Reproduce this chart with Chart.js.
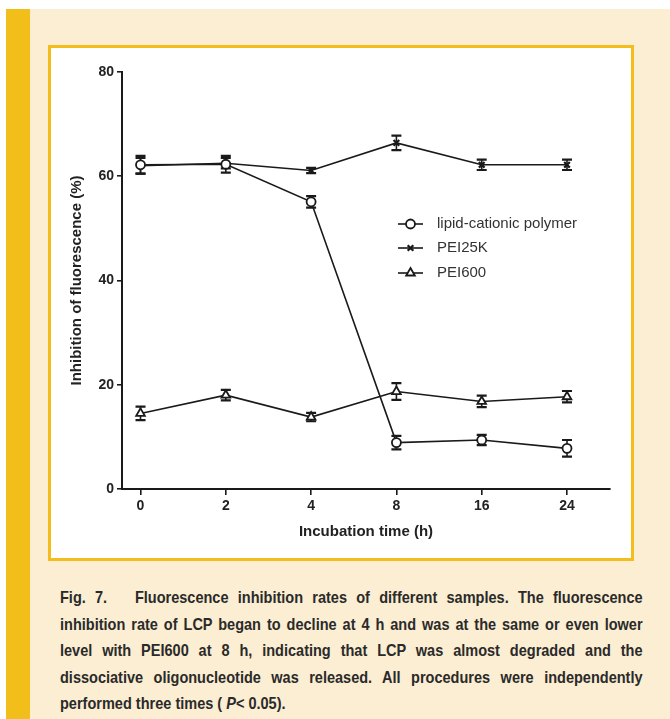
<!DOCTYPE html>
<html><head><meta charset="utf-8">
<script src="https://cdn.jsdelivr.net/npm/chart.js@4.4.0/dist/chart.umd.min.js"></script>
<style>
html,body{margin:0;padding:0;background:#fff;}
body{width:670px;height:719px;position:relative;overflow:hidden;}
#panel{position:absolute;left:6px;top:9px;width:664px;height:710px;background:#FBEED2;}
#bar{position:absolute;left:6px;top:9px;width:24px;height:710px;background:#F2BE1A;}
#box{position:absolute;left:48px;top:45px;width:580px;height:510px;border:3px solid #F3BE1C;background:#fff;}
#box canvas{position:absolute;left:0;top:0;}
#cap{position:absolute;left:60px;top:584px;width:662px;transform:scaleX(0.88);transform-origin:0 0;font-family:"Liberation Sans",Arial,sans-serif;font-size:16.5px;line-height:26.5px;color:#2a2a2a;font-weight:bold;}
#cap .l{text-align:justify;text-align-last:justify;}
#cap .last{text-align:left;}
</style>
</head><body>
<div id="panel"></div>
<div id="bar"></div>
<div id="box"><canvas id="c" width="580" height="510"></canvas></div>
<div id="cap">
<div class="l">Fig. 7.&nbsp;&nbsp; Fluorescence inhibition rates of different samples. The fluorescence</div>
<div class="l">inhibition rate of LCP began to decline at 4 h and was at the same or even lower</div>
<div class="l">level with PEI600 at 8 h, indicating that LCP was almost degraded and the</div>
<div class="l">dissociative oligonucleotide was released. All procedures were independently</div>
<div class="last">performed three times ( <i>P</i>&lt; 0.05).</div>
</div>
<script>
const categories = ['0', '2', '4', '8', '16', '24'];
const seriesNames = ['lipid-cationic polymer', 'PEI25K', 'PEI600'];
const lcp = [62.2, 62.3, 55.1, 8.9, 9.4, 7.8];
const lcpErr = [1.7, 1.6, 1.1, 1.3, 1.0, 1.6];
const pei25k = [62.0, 62.5, 61.1, 66.4, 62.2, 62.2];
const pei25kErr = [1.5, 1.0, 0.5, 1.4, 1.0, 1.0];
const pei600 = [14.5, 18.0, 13.8, 18.7, 16.8, 17.7];
const pei600Err = [1.3, 1.0, 0.8, 1.6, 1.1, 1.1];
const yTicks = [0, 20, 40, 60, 80];

const FONT = "'Liberation Sans', Arial, Helvetica, sans-serif";
const INK = '#1a1a1a';

function mk(label, vals, errs, style, radius, bw) {
  return {
    label: label,
    data: vals.map((v, i) => ({x: i, y: v})),
    errors: errs,
    borderColor: INK,
    borderWidth: 1.6,
    pointStyle: style,
    pointRadius: radius,
    pointBackgroundColor: '#fff',
    pointBorderColor: INK,
    pointBorderWidth: bw,
    tension: 0,
    fill: false
  };
}

const errPlugin = {
  id: 'errbars',
  beforeDatasetsDraw(chart) {
    const ctx = chart.ctx, x = chart.scales.x, y = chart.scales.y;
    ctx.save();
    ctx.strokeStyle = INK;
    chart.data.datasets.forEach(ds => {
      ds.data.forEach((p, i) => {
        const px = x.getPixelForValue(p.x);
        const e = ds.errors[i];
        const t = y.getPixelForValue(p.y + e), b = y.getPixelForValue(p.y - e);
        ctx.lineWidth = 1.6;
        ctx.beginPath(); ctx.moveTo(px, t); ctx.lineTo(px, b); ctx.stroke();
        ctx.lineWidth = 2.2;
        ctx.beginPath();
        ctx.moveTo(px - 5, t); ctx.lineTo(px + 5, t);
        ctx.moveTo(px - 5, b); ctx.lineTo(px + 5, b);
        ctx.stroke();
      });
    });
    ctx.restore();
  }
};

const legendPlugin = {
  id: 'customLegend',
  afterDraw(chart) {
    const ctx = chart.ctx;
    const ys = [176, 200, 225];
    ctx.save();
    chart.data.datasets.forEach((ds, i) => {
      const y = ys[i];
      ctx.strokeStyle = INK; ctx.lineWidth = 1.6;
      ctx.beginPath(); ctx.moveTo(347, y); ctx.lineTo(372, y); ctx.stroke();
      ctx.fillStyle = '#fff'; ctx.strokeStyle = INK; ctx.lineWidth = ds.pointBorderWidth;
      Chart.helpers.drawPoint(ctx, {pointStyle: ds.pointStyle, radius: ds.pointRadius, borderWidth: ds.pointBorderWidth, rotation: 0}, 359.5, y);
      ctx.fillStyle = '#333';
      ctx.font = '15px ' + FONT;
      ctx.textBaseline = 'middle';
      ctx.textAlign = 'left';
      ctx.fillText(ds.label, 386, y);
    });
    ctx.restore();
  }
};

new Chart(document.getElementById('c'), {
  type: 'line',
  data: {
    datasets: [
      mk(seriesNames[0], lcp, lcpErr, 'circle', 4.5, 1.8),
      mk(seriesNames[1], pei25k, pei25kErr, 'crossRot', 4, 2.2),
      mk(seriesNames[2], pei600, pei600Err, 'triangle', 5, 1.8)
    ]
  },
  options: {
    responsive: false,
    animation: false,
    layout: {padding: {top: 24, right: 21, bottom: 0, left: 0}},
    plugins: {legend: {display: false}, tooltip: {enabled: false}},
    scales: {
      x: {
        type: 'linear',
        min: -0.217, max: 5.504,
        afterBuildTicks: s => { s.ticks = categories.map((c, i) => ({value: i})); },
        afterFit: s => { s.height = 69; },
        ticks: {
          callback: v => categories[v],
          font: {family: FONT, size: 14, weight: 'bold'},
          color: '#222', padding: 3, maxRotation: 0, autoSkip: false
        },
        grid: {drawOnChartArea: false, drawTicks: true, tickLength: 6, color: INK, lineWidth: 1.6},
        border: {color: INK, width: 2},
        title: {display: true, text: 'Incubation time (h)', font: {family: FONT, size: 15, weight: 'bold'}, color: '#222', padding: {top: 0, bottom: 17}}
      },
      y: {
        type: 'linear',
        min: 0, max: 80,
        afterBuildTicks: s => { s.ticks = yTicks.map(v => ({value: v})); },
        afterFit: s => { s.width = 71; },
        ticks: {font: {family: FONT, size: 14, weight: 'bold'}, color: '#222', padding: 3},
        grid: {drawOnChartArea: false, drawTicks: true, tickLength: 5, color: INK, lineWidth: 1.6},
        border: {color: INK, width: 2},
        title: {display: true, text: 'Inhibition of fluorescence (%)', font: {family: FONT, size: 15, weight: 'bold'}, color: '#222', padding: {top: 17, bottom: 0}}
      }
    }
  },
  plugins: [errPlugin, legendPlugin]
});
</script>
</body></html>
